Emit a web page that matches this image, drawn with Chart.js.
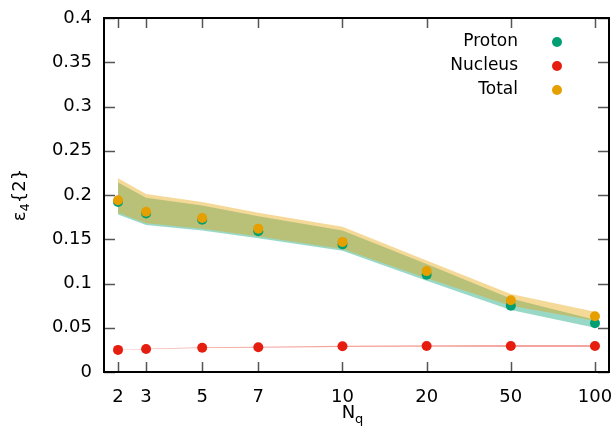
<!DOCTYPE html>
<html>
<head>
<meta charset="utf-8">
<script src="https://cdn.jsdelivr.net/npm/chart.js@4.4.1/dist/chart.umd.min.js"></script>
<style>
  html, body { margin: 0; padding: 0; background: #fff; }
  #wrap { width: 614px; height: 442px; }
</style>
</head>
<body>
<div id="wrap"><canvas id="chart"></canvas></div>
<script>
// Data
const nq = [2, 3, 5, 7, 10, 20, 50, 100];

const proton     = [0.192, 0.179, 0.172, 0.159, 0.144, 0.110, 0.075, 0.055];
const protonLow  = [0.178, 0.166, 0.160, 0.151, 0.137, 0.103, 0.070, 0.050];
const protonHigh = [0.214, 0.197, 0.188, 0.176, 0.160, 0.122, 0.083, 0.059];

const total      = [0.194, 0.181, 0.174, 0.162, 0.147, 0.114, 0.081, 0.063];
const totalLow   = [0.180, 0.168, 0.162, 0.153, 0.139, 0.106, 0.075, 0.058];
const totalHigh  = [0.219, 0.201, 0.192, 0.180, 0.164, 0.126, 0.088, 0.068];

const nucleus     = [0.025, 0.026, 0.0275, 0.028, 0.029, 0.0293, 0.0294, 0.0294];
const nucleusLow  = [0.0248, 0.0257, 0.027, 0.0274, 0.0282, 0.0284, 0.0283, 0.0283];
const nucleusHigh = [0.0252, 0.0263, 0.028, 0.0286, 0.0298, 0.0302, 0.0305, 0.0305];

const yTicks = [0, 0.05, 0.1, 0.15, 0.2, 0.25, 0.3, 0.35, 0.4];

// x axis is not linear in Nq: unit steps up to 10, then three units per step
function slotOf(i) {
  if (nq[i] <= 10) return nq[i] - nq[0];
  return slotOf(i - 1) + 3;
}
const slots = nq.map((n, i) => slotOf(i));

const GREEN = '#009e73', RED = '#e51e10', ORANGE = '#e69f00';
const FONT = "'DejaVu Sans', sans-serif";

function pts(values) {
  return values.map((v, i) => ({ x: slots[i], y: v }));
}

function band(values, color, order, target) {
  return {
    data: pts(values), showLine: true, borderWidth: 0, pointRadius: 0,
    backgroundColor: color, fill: target, order: order, tension: 0
  };
}

function markers(label, values, color, order) {
  return {
    label: label, data: pts(values), showLine: false, pointRadius: 5,
    pointHoverRadius: 5, pointBorderWidth: 0, backgroundColor: color,
    borderColor: color, order: order
  };
}

const datasets = [
  markers('Total', total, ORANGE, 0),
  markers('Nucleus', nucleus, RED, 1),
  markers('Proton', proton, GREEN, 2),
  band(nucleusHigh, 'rgba(229,30,16,0.4)', 3, 4),
  band(nucleusLow, 'rgba(0,0,0,0)', 3, false),
  band(totalHigh, 'rgba(230,159,0,0.4)', 4, 6),
  band(totalLow, 'rgba(0,0,0,0)', 4, false),
  band(protonHigh, 'rgba(0,158,115,0.4)', 5, 8),
  band(protonLow, 'rgba(0,0,0,0)', 5, false)
];

// frame, inward ticks on all sides, axis titles and key
const decor = {
  id: 'decor',
  afterDatasetsDraw(chart) {
    const { ctx, chartArea: a, scales: { x, y } } = chart;
    ctx.save();
    ctx.strokeStyle = '#555';
    ctx.lineWidth = 1.5;
    ctx.beginPath();
    slots.forEach(s => {
      const px = Math.round(x.getPixelForValue(s)) + 0.5;
      ctx.moveTo(px, a.bottom); ctx.lineTo(px, a.bottom - 10);
      ctx.moveTo(px, a.top); ctx.lineTo(px, a.top + 10);
    });
    yTicks.forEach(v => {
      const py = Math.round(y.getPixelForValue(v)) + 0.5;
      ctx.moveTo(a.left, py); ctx.lineTo(a.left + 11, py);
      ctx.moveTo(a.right, py); ctx.lineTo(a.right - 11, py);
    });
    ctx.stroke();
    ctx.strokeStyle = '#000';
    ctx.lineWidth = 2;
    ctx.strokeRect(a.left, a.top, a.right - a.left, a.bottom - a.top);
    ctx.restore();
  },
  afterDraw(chart) {
    const { ctx, chartArea: a } = chart;
    ctx.save();
    ctx.fillStyle = '#000';
    ctx.textBaseline = 'alphabetic';

    // y title: ε4{2}, rotated
    ctx.save();
    ctx.translate(25, (a.top + a.bottom) / 2);
    ctx.rotate(-Math.PI / 2);
    ctx.font = '18px ' + FONT;
    const w1 = ctx.measureText('ε').width, w3 = ctx.measureText('{2}').width;
    ctx.font = '13px ' + FONT;
    const w2 = ctx.measureText('4').width;
    let sx = -(w1 + w2 + w3) / 2;
    ctx.font = '18px ' + FONT;
    ctx.fillText('ε', sx, 0);
    ctx.font = '13px ' + FONT;
    ctx.fillText('4', sx + w1, 4);
    ctx.font = '18px ' + FONT;
    ctx.fillText('{2}', sx + w1 + w2, 0);
    ctx.restore();

    // x title: Nq
    ctx.font = '18px ' + FONT;
    const n1 = ctx.measureText('N').width;
    ctx.font = '13px ' + FONT;
    const n2 = ctx.measureText('q').width;
    const cx = (a.left + a.right) / 2 - (n1 + n2) / 2 - 4;
    ctx.font = '18px ' + FONT;
    ctx.fillText('N', cx, 418);
    ctx.font = '13px ' + FONT;
    ctx.fillText('q', cx + n1, 423);

    // key
    const keys = [['Proton', GREEN], ['Nucleus', RED], ['Total', ORANGE]];
    ctx.font = '17px ' + FONT;
    ctx.textAlign = 'right';
    ctx.textBaseline = 'middle';
    keys.forEach((k, i) => {
      const ky = 42 + i * 24;
      ctx.fillStyle = '#000';
      ctx.fillText(k[0], 518, ky);
      ctx.fillStyle = k[1];
      ctx.beginPath();
      ctx.arc(557, ky, 5, 0, Math.PI * 2);
      ctx.fill();
    });
    ctx.restore();
  }
};

Chart.defaults.font.family = FONT;
Chart.defaults.font.size = 18;
Chart.defaults.color = '#000';

new Chart(document.getElementById('chart'), {
  type: 'scatter',
  data: { datasets: datasets },
  options: {
    responsive: true,
    maintainAspectRatio: false,
    animation: false,
    layout: { padding: { top: 18, right: 5, left: 0, bottom: 0 } },
    plugins: { legend: { display: false }, tooltip: { enabled: false } },
    scales: {
      x: {
        type: 'linear', min: -0.5, max: 17.5,
        grid: { display: false, drawTicks: false },
        border: { display: false },
        afterBuildTicks: s => { s.ticks = slots.map(v => ({ value: v })); },
        afterFit: s => { s.height = 70; s.paddingLeft = 0; s.paddingRight = 0; },
        ticks: {
          padding: 15, maxRotation: 0, autoSkip: false,
          callback: v => String(nq[slots.indexOf(v)])
        }
      },
      y: {
        type: 'linear', min: 0, max: 0.4,
        grid: { display: false, drawTicks: false },
        border: { display: false },
        afterBuildTicks: s => { s.ticks = yTicks.map(v => ({ value: v })); },
        afterFit: s => { s.width = 104; s.paddingTop = 0; s.paddingBottom = 0; },
        ticks: { padding: 12, callback: v => String(v) }
      }
    }
  },
  plugins: [decor]
});
</script>
</body>
</html>
